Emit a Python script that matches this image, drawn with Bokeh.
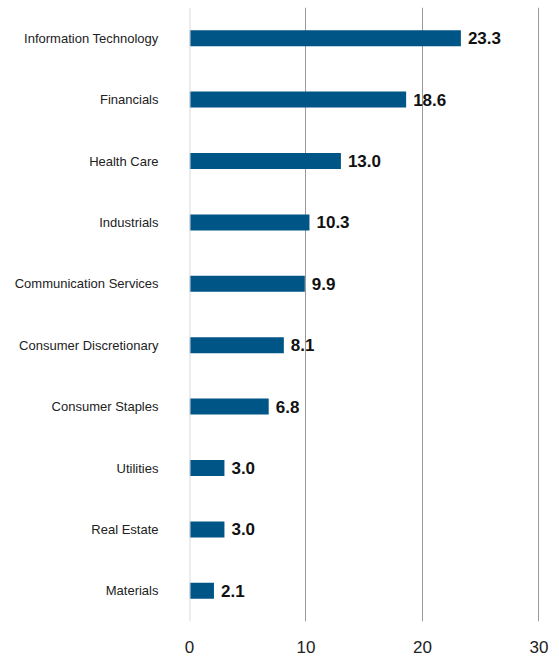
from bokeh.plotting import figure
from bokeh.models import ColumnDataSource, Range1d, FactorRange, FixedTicker, Span
from bokeh.core.properties import value
from bokeh.embed import file_html
from bokeh.resources import INLINE

categories = ["Information Technology", "Financials", "Health Care", "Industrials",
              "Communication Services", "Consumer Discretionary", "Consumer Staples",
              "Utilities", "Real Estate", "Materials"]
weights = [23.3, 18.6, 13.0, 10.3, 9.9, 8.1, 6.8, 3.0, 3.0, 2.1]
x_ticks = [0, 10, 20, 30]

FONT = "Liberation Sans"

src = ColumnDataSource(dict(cat=categories, val=weights,
                            lbl=[f"{v:.1f}" for v in weights]))

p = figure(width=555, height=655, output_backend="svg", toolbar_location=None,
           x_range=Range1d(0, 30.05), y_range=FactorRange(*categories[::-1]),
           min_border_left=189, min_border_right=16, min_border_top=7,
           min_border_bottom=33)
p.outline_line_color = None
p.background_fill_color = "white"
p.border_fill_color = "white"

p.hbar(y="cat", right="val", left=0, height=0.26, source=src,
       fill_color="#005587", line_color=None)
p.text(x="val", y="cat", text="lbl", source=src, x_offset=7,
       text_align="left", text_baseline="middle", text_font=value(FONT),
       text_font_style="bold", text_font_size="17px", text_color="#111111")

p.xgrid.ticker = FixedTicker(ticks=x_ticks[1:])
p.xgrid.grid_line_color = "#9a9a9a"
p.xgrid.grid_line_width = 1
p.ygrid.grid_line_color = None
p.add_layout(Span(location=0, dimension="height", line_color="#d9d9d9", line_width=2))

p.xaxis.ticker = FixedTicker(ticks=x_ticks)
p.xaxis.axis_line_color = None
p.xaxis.major_tick_line_color = None
p.xaxis.minor_tick_line_color = None
p.xaxis.major_label_text_font = FONT
p.xaxis.major_label_text_font_size = "17px"
p.xaxis.major_label_text_color = "#222222"
p.xaxis.major_label_standoff = 13

p.yaxis.axis_line_color = None
p.yaxis.major_tick_line_color = None
p.yaxis.minor_tick_line_color = None
p.yaxis.major_label_text_font = FONT
p.yaxis.major_label_text_font_size = "13px"
p.yaxis.major_label_text_color = "#222222"
p.yaxis.major_label_standoff = 25

open("out.html", "w").write(file_html(p, INLINE))
